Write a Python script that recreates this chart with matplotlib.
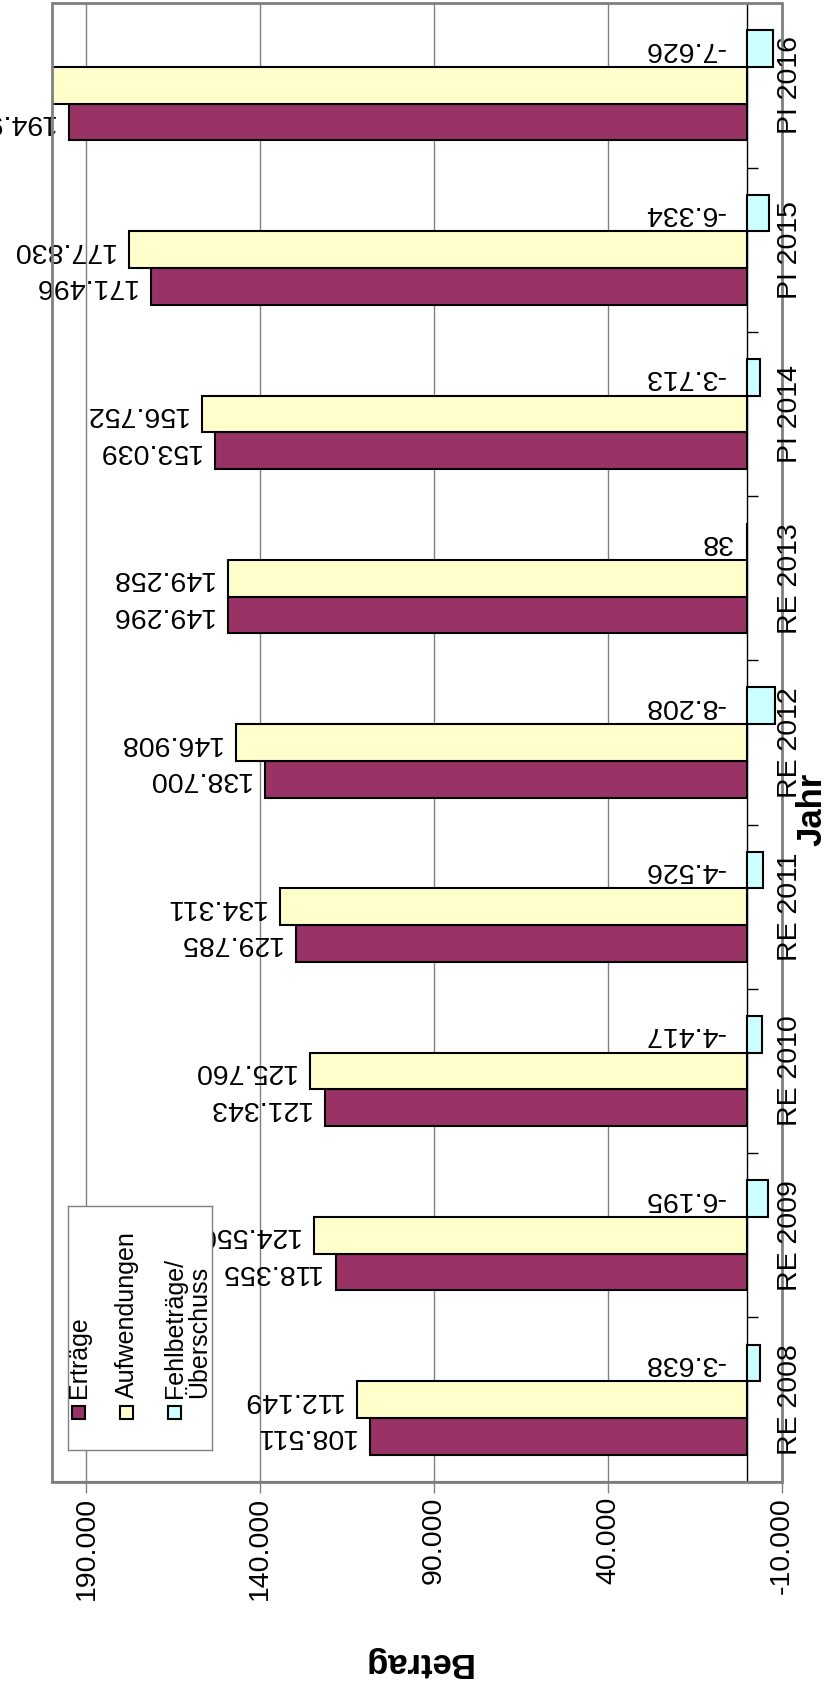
import numpy as np
import matplotlib
matplotlib.use("Agg")
import matplotlib.pyplot as plt
from matplotlib.patches import Rectangle
from matplotlib.ticker import FuncFormatter
from matplotlib.transforms import blended_transform_factory

plt.rcParams['font.family'] = ['Liberation Sans', 'DejaVu Sans']

# Haushaltsdaten (Euro)
jahre = ['RE 2008', 'RE 2009', 'RE 2010', 'RE 2011', 'RE 2012',
         'RE 2013', 'PI 2014', 'PI 2015', 'PI 2016']
ertraege = [108511, 118355, 121343, 129785, 138700, 149296, 153039, 171496, 194912]
aufwendungen = [112149, 124550, 125760, 134311, 146908, 149258, 156752, 177830, 202538]
saldo = [-3638, -6195, -4417, -4526, -8208, 38, -3713, -6334, -7626]

namen = ['Erträge', 'Aufwendungen', 'Fehlbeträge/\nÜberschuss']
farben = ['#993366', '#FFFFCC', '#CCFFFF']


def de(v):
    return f"{int(round(v)):,}".replace(",", ".")


W, H = 826, 1686
fig = plt.figure(figsize=(W / 100, H / 100), dpi=100)


def fx(px):
    return px / W


def fy(py):
    return 1 - py / H


ax = fig.add_axes([fx(51.7), fy(1481.7), fx(781.7) - fx(51.7), fy(3.3) - fy(1481.7)])

y = np.arange(len(jahre))
bh = 0.2233
for i, (werte, farbe) in enumerate(zip([ertraege, aufwendungen, saldo], farben)):
    pos = y + (i - 1) * bh
    ax.barh(pos, werte, height=bh, color=farbe, edgecolor='black', linewidth=1.5, zorder=3)
    for p, v in zip(pos, werte):
        pad = 11 if v >= 0 else 16
        ax.annotate(de(v), xy=(max(v, 0), p), xytext=(-pad, 0), textcoords='offset points',
                    ha='right', va='center', rotation=180, fontsize=20.5, zorder=4)

ax.set_xlim(200000, -10000)
ax.set_ylim(-0.5, len(jahre) - 0.5)

# Wertachse unten
ax.set_xticks([190000, 140000, 90000, 40000, -10000])
ax.xaxis.set_major_formatter(FuncFormatter(lambda v, _: de(v)))
ax.tick_params(axis='x', direction='out', length=8, width=1, color='#808080',
               labelsize=20.5, labelrotation=90, pad=3)
ax.grid(axis='x', color='#808080', linewidth=1)
ax.set_axisbelow(True)

# Kategorienachse liegt bei 0
ax.spines['right'].set_position(('data', 0))
ax.spines['right'].set_color('black')
ax.spines['right'].set_linewidth(1)
ax.yaxis.tick_right()
ax.set_yticks(np.arange(-0.5, len(jahre), 1))
ax.tick_params(axis='y', direction='out', length=8, width=1, color='black',
               labelright=False, labelleft=False)
ax.spines['left'].set_visible(False)
ax.spines['top'].set_visible(False)
ax.spines['bottom'].set_color('#404040')
ax.spines['bottom'].set_linewidth(1.5)

ax.add_patch(Rectangle((0, 0), 1, 1, transform=ax.transAxes, fill=False,
                       edgecolor='#808080', linewidth=2, clip_on=False, zorder=5))

trans = blended_transform_factory(ax.transAxes, ax.transData)
for yi, name in zip(y, jahre):
    ax.text(0.9932, yi, name, transform=trans, rotation=90, ha='left', va='center',
            fontsize=20.5, clip_on=False, zorder=6)

fig.text(fx(795), fy(809), 'Jahr', rotation=90, ha='left', va='center',
         fontsize=25, fontweight='bold')
fig.text(fx(416.7), fy(1662), 'Betrag', rotation=180, ha='center', va='center',
         fontsize=25, fontweight='bold')

# Legende
lx0, lx1, ly0, ly1 = 68.3, 211.7, 1206, 1450
lax = fig.add_axes([fx(lx0), fy(ly1), (lx1 - lx0) / W, (ly1 - ly0) / H])
lax.set_xlim(0, lx1 - lx0)
lax.set_ylim(0, ly1 - ly0)
lax.set_xticks([])
lax.set_yticks([])
for s in lax.spines.values():
    s.set_color('#808080')
    s.set_linewidth(1)

for mx, name, farbe in zip([10.4, 58.4, 106.4], namen, farben):
    lax.add_patch(Rectangle((mx - 6.75, 37.3 - 6.75), 13.5, 13.5, facecolor=farbe,
                            edgecolor='black', linewidth=1.5))
    n = name.count('\n')
    lax.text(mx + n * 12.5, 51.7, name, rotation=90, ha='center', va='bottom',
             fontsize=18, linespacing=1.0, multialignment='left')

fig.savefig('out.png', dpi=100)
